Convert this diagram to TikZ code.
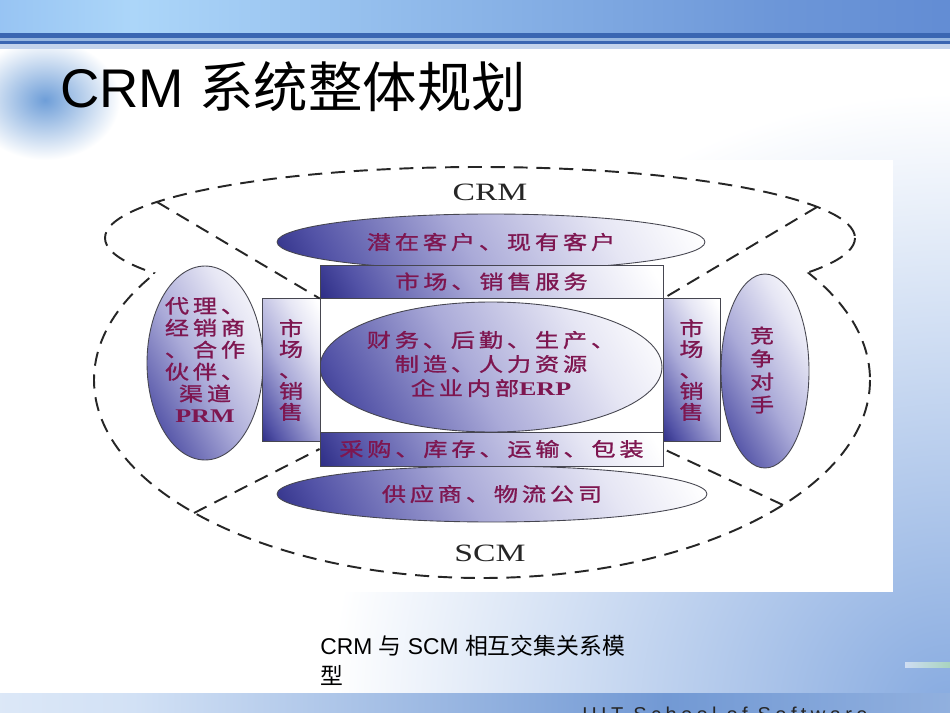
\documentclass[tikz,border=0pt]{standalone}
\usepackage{fontspec}
\setmainfont{Liberation Sans}
\newfontfamily\cjk{Noto Sans CJK SC}
\newfontfamily\dgcjk[FakeStretch=1.25,LetterSpace=20,FakeBold=1.2]{Noto Sans CJK SC}
\newfontfamily\dgrm[FakeStretch=1.35]{Liberation Serif}
\newfontfamily\footfont[LetterSpace=22]{Liberation Sans}
\usetikzlibrary{shapes.geometric}
\definecolor{dgnavy}{HTML}{1E1E78}
\definecolor{dgblue}{HTML}{5252A6}
\definecolor{dgmid}{HTML}{AAAAD8}
\definecolor{dgpale}{HTML}{E6E6F4}
\definecolor{dgline}{HTML}{464650}
\definecolor{dgtext}{HTML}{7E1650}
\definecolor{skyA}{HTML}{4E84DC}
\definecolor{skyB}{HTML}{ACD6F9}
\definecolor{skyC}{HTML}{6C96D8}
\definecolor{skyD}{HTML}{4872C8}
\definecolor{bandDark}{HTML}{3A66B2}
\definecolor{bandLine}{HTML}{96B6E0}
\definecolor{bandLight}{HTML}{C4D4EC}
\definecolor{slideblue}{HTML}{86AAE0}
\definecolor{cloudblue}{HTML}{6E9ED8}
\definecolor{footA}{HTML}{D2E1F5}
\definecolor{footB}{HTML}{7299D4}
\definecolor{footC}{HTML}{C4D6F0}
\definecolor{glowgreen}{HTML}{A8D4BE}
\pgfdeclarehorizontalshading{topband}{100bp}{color(0bp)=(skyA); color(32bp)=(skyB); color(66bp)=(skyC); color(100bp)=(skyD)}
\pgfdeclarehorizontalshading{footband}{100bp}{color(0bp)=(white); color(32bp)=(footA); color(60bp)=(footB); color(100bp)=(footC)}
\pgfdeclareverticalshading{dgshade}{100bp}{color(0bp)=(dgnavy); color(12bp)=(dgnavy); color(24bp)=(dgblue); color(46bp)=(dgmid); color(68bp)=(dgpale); color(82bp)=(white); color(100bp)=(white)}
\newcommand{\dgfont}{\fontsize{11}{12.5}\selectfont\dgcjk}
\tikzset{
  oval/.style={ellipse, draw=dgline, line width=0.5pt, shade, shading=dgshade,
               shading angle=-60, inner sep=0pt},
  slab/.style={rectangle, draw=dgline, line width=0.5pt, shade, shading=dgshade,
               shading angle=-60, inner sep=0pt, text=dgtext, font=\dgfont, align=center},
  lbl/.style={text=dgtext, font=\dgfont, align=center, inner sep=0pt},
  zone/.style={font=\fontsize{14.2}{16}\selectfont\dgrm, text=black!85, inner sep=0pt},
  bound/.style={line width=1.1pt, dash pattern=on 8pt off 5pt, draw=black!85},
  headline/.style={font=\fontsize{31}{36}\selectfont, inner sep=0pt, anchor=base west},
  captxt/.style={font=\fontsize{13}{17}\selectfont, inner sep=0pt, align=left, anchor=north west},
}

\begin{document}
\begin{tikzpicture}[x=0.02cm, y=-0.02cm]
  \useasboundingbox (0,0) rectangle (950,713);
  % slide background
  \fill[white] (0,0) rectangle (950,713);
  \begin{scope}
    \clip (0,48) rectangle (950,713);
    \shade[inner color=slideblue, outer color=white] (950,713) circle [radius=620];
    \shade[inner color=cloudblue, outer color=white] (45,100) ellipse [x radius=75, y radius=60];
  \end{scope}
  \shade[shading=topband] (0,0) rectangle (950,33);
  \fill[bandDark] (0,33) rectangle (950,38);
  \fill[bandLine] (0,38) rectangle (950,41);
  \fill[bandDark] (0,41) rectangle (950,44);
  \fill[bandLight] (0,44) rectangle (950,49);
  \shade[left color=slideblue!40, right color=glowgreen] (905,662) rectangle (950,667);
  \shade[shading=footband] (0,693) rectangle (950,713);
  \node[anchor=base west, inner sep=0pt, font=\fontsize{11.4}{13}\selectfont\footfont, text=black!85]
    (school) at (582,721) {HIT School of Software};

  \node[headline] (title) at (60,108) {CRM {\cjk 系统整体规划}};
  \node[captxt] (caption) at (320,635) {CRM {\cjk 与} SCM {\cjk 相互交集关系模}\\{\cjk 型}};

  % picture panel
  \fill[white] (62,160) rectangle (893,592);

  % CRM and SCM outlines, each cut where it runs inside the other
  \begin{scope}[even odd rule]
    \clip (0,0) rectangle (950,713) (482,380) ellipse [x radius=388, y radius=198];
    \draw[bound] (480,238) ellipse [x radius=375, y radius=71];
  \end{scope}
  \begin{scope}[even odd rule]
    \clip (0,0) rectangle (950,713) (480,238) ellipse [x radius=375, y radius=71];
    \draw[bound] (482,380) ellipse [x radius=388, y radius=198];
  \end{scope}
  \coordinate (crmL) at (157,202);
  \coordinate (crmR) at (817,207);
  \coordinate (scmL) at (194,513);
  \coordinate (scmR) at (783,505);

  \node[zone] (crm) at (490,192) {CRM};
  \node[zone] (scm) at (490,553) {SCM};

  % ovals
  \node[oval, minimum width=8.56cm, minimum height=1.12cm] (prospect) at (491,242) {};
  \node[oval, minimum width=8.6cm, minimum height=1.12cm] (supplier) at (492,494) {};
  \node[oval, minimum width=6.84cm, minimum height=2.6cm] (erp) at (491,367) {};
  \node[oval, minimum width=2.32cm, minimum height=3.88cm] (partner) at (205,363) {};
  \node[oval, minimum width=1.76cm, minimum height=3.88cm] (rival) at (765,371) {};

  % bars
  \node[slab, minimum width=6.86cm, minimum height=0.66cm] (mkt) at (491.5,281.5) {市场、销售服务};
  \node[slab, minimum width=6.86cm, minimum height=0.68cm] (buy) at (491.5,449) {采购、库存、运输、包装};
  \node[slab, minimum width=1.16cm, minimum height=2.86cm, font={\fontsize{11}{11.9}\selectfont\dgcjk}]
    (sideL) at (291,370) {市\\场\\、\\销\\售};
  \node[slab, minimum width=1.14cm, minimum height=2.86cm, font={\fontsize{11}{11.9}\selectfont\dgcjk}]
    (sideR) at (691.5,370) {市\\场\\、\\销\\售};

  \foreach \a/\b in {crmL/mkt.south west, crmR/mkt.south east, scmL/buy.west, scmR/buy.east}{
    \draw[bound] (\a) -- (\b);
  }

  % oval texts
  \node[lbl] (prospect-t) at (prospect.center) {潜在客户、现有客户};
  \node[lbl] (supplier-t) at (supplier.center) {供应商、物流公司};
  \node[lbl, font={\fontsize{11}{13.7}\selectfont\dgcjk}] (erp-t) at (491,364)
    {财务、后勤、生产、\\制造、人力资源\\企业内部{\dgrm\bfseries ERP}};
  \node[lbl, font={\fontsize{11}{12.5}\selectfont\dgcjk}] (partner-t) at (205,360)
    {代理、\\经销商\\、合作\\伙伴、\\渠道\\{\dgrm\bfseries PRM}};
  \node[lbl, font={\fontsize{11}{13.1}\selectfont\dgcjk}] (rival-t) at (762,370) {竞\\争\\对\\手};
\end{tikzpicture}
\end{document}
